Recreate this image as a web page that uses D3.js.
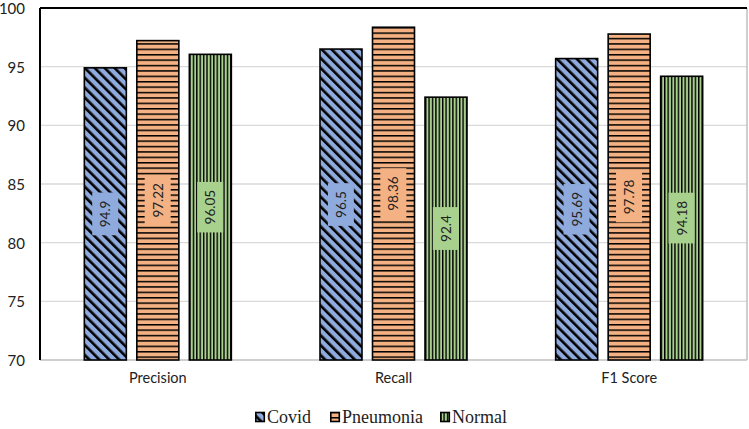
<!DOCTYPE html>
<html><head><meta charset="utf-8">
<script src="https://cdn.jsdelivr.net/npm/d3@7"></script>
<style>body{margin:0;background:#fff}svg{display:block}</style>
</head><body>
<svg id="c" width="749" height="429"></svg>
<script>
const categories = ["Precision", "Recall", "F1 Score"];
const seriesNames = ["Covid", "Pneumonia", "Normal"];
const covid = [94.9, 96.5, 95.69];
const pneumonia = [97.22, 98.36, 97.78];
const normal = [96.05, 92.4, 94.18];
const yTicks = [70, 75, 80, 85, 90, 95, 100];

const seriesVals = {Covid: covid, Pneumonia: pneumonia, Normal: normal};
const colors = {Covid: "#8faadc", Pneumonia: "#f4b183", Normal: "#a9d18e"};

const svg = d3.select("#c");
const L = 40, R = 747, T = 8, B = 360;

const defs = svg.append("defs");
// Covid: diagonal stripes (\)
let p = defs.append("pattern").attr("id", "pat-Covid").attr("patternUnits", "userSpaceOnUse")
  .attr("width", 7).attr("height", 7).attr("patternTransform", "rotate(-45)");
p.append("rect").attr("width", 7).attr("height", 7).attr("fill", colors.Covid);
p.append("rect").attr("x", 0).attr("y", 0).attr("width", 2.6).attr("height", 7).attr("fill", "#000");
// Pneumonia: horizontal lines
p = defs.append("pattern").attr("id", "pat-Pneumonia").attr("patternUnits", "userSpaceOnUse")
  .attr("width", 8).attr("height", 5.4);
p.append("rect").attr("width", 8).attr("height", 5.4).attr("fill", colors.Pneumonia);
p.append("rect").attr("x", 0).attr("y", 0).attr("width", 8).attr("height", 1.5).attr("fill", "#000");
// Normal: vertical lines
p = defs.append("pattern").attr("id", "pat-Normal").attr("patternUnits", "userSpaceOnUse")
  .attr("width", 3.4).attr("height", 8);
p.append("rect").attr("width", 3.4).attr("height", 8).attr("fill", colors.Normal);
p.append("rect").attr("x", 0).attr("y", 0).attr("width", 1.4).attr("height", 8).attr("fill", "#000");

const y = d3.scaleLinear().domain([70, 100]).range([B, T]);
const x0 = d3.scaleBand().domain(categories).range([L, R]);
const bw0 = x0.bandwidth();
const x1 = d3.scaleBand().domain(seriesNames).range([bw0 / 2 - 73.5, bw0 / 2 + 73.5]).paddingInner(0.2);

// gridlines
svg.append("g").selectAll("line").data(yTicks.filter(t => t > 70 && t < 100)).join("line")
  .attr("x1", L).attr("x2", R).attr("y1", d => y(d)).attr("y2", d => y(d))
  .attr("stroke", "#d9d9d9").attr("stroke-width", 1.3);

// y axis labels
const yAxis = d3.axisLeft(y).tickValues(yTicks).tickSize(0).tickPadding(15);
const ga = svg.append("g").attr("transform", `translate(${L},0)`).call(yAxis);
ga.select(".domain").remove();
ga.selectAll("text").attr("font-family", "Lato, sans-serif").attr("font-size", 15).attr("fill", "#222")
  .attr("dy", "0.36em");

// frame
svg.append("line").attr("x1", L).attr("x2", R).attr("y1", B).attr("y2", B).attr("stroke", "#bfbfbf").attr("stroke-width", 1.5);
svg.append("line").attr("x1", R).attr("x2", R).attr("y1", T).attr("y2", B).attr("stroke", "#bfbfbf").attr("stroke-width", 1.5);
svg.append("line").attr("x1", L).attr("x2", R).attr("y1", T).attr("y2", T).attr("stroke", "#000").attr("stroke-width", 2);
svg.append("line").attr("x1", L).attr("x2", L).attr("y1", T).attr("y2", B).attr("stroke", "#000").attr("stroke-width", 2);

// x axis labels
const xAxis = d3.axisBottom(x0).tickSize(0).tickPadding(13);
const gx = svg.append("g").attr("transform", `translate(0,${B})`).call(xAxis);
gx.select(".domain").remove();
gx.selectAll("text").attr("font-family", "Lato, sans-serif").attr("font-size", 14.5).attr("fill", "#222");

// bars
const data = [];
categories.forEach((c, i) => seriesNames.forEach(s => data.push({c, s, v: seriesVals[s][i]})));
const bars = svg.append("g").selectAll("g").data(data).join("g")
  .attr("transform", d => `translate(${x0(d.c) + x1(d.s)},0)`);
bars.append("rect").attr("x", 0).attr("y", d => y(d.v)).attr("width", x1.bandwidth())
  .attr("height", d => y(70) - y(d.v)).attr("fill", d => `url(#pat-${d.s})`)
  .attr("stroke", "#000").attr("stroke-width", 1.6);

// labels
bars.each(function(d) {
  const g = d3.select(this);
  const cx = x1.bandwidth() / 2;
  const cy = (y(d.v) + y(70)) / 2;
  const lg = g.append("g").attr("transform", `translate(${cx},${cy}) rotate(-90)`);
  const t = lg.append("text").attr("text-anchor", "middle").attr("dy", "0.36em")
    .attr("font-family", "Lato, sans-serif").attr("font-size", 13.5).attr("fill", "#222")
    .text(d.v);
  const bb = t.node().getBBox();
  lg.insert("rect", "text").attr("x", bb.x - 8).attr("y", bb.y - 5)
    .attr("width", bb.width + 16).attr("height", bb.height + 10).attr("fill", colors[d.s]);
});

// legend
const legendX = {Covid: 255, Pneumonia: 330, Normal: 440};
const lgd = svg.append("g").selectAll("g").data(seriesNames).join("g")
  .attr("transform", d => `translate(${legendX[d]},417)`);
lgd.append("rect").attr("x", 0.8).attr("y", -4.5).attr("width", 8.5).attr("height", 9)
  .attr("fill", d => `url(#pat-${d})`).attr("stroke", "#000").attr("stroke-width", 1.6);
lgd.append("text").attr("x", 12).attr("y", 0).attr("dy", "0.33em")
  .attr("font-family", "'Liberation Serif', 'Times New Roman', serif").attr("font-size", 18).attr("fill", "#222")
  .text(d => d);
</script>
</body></html>
